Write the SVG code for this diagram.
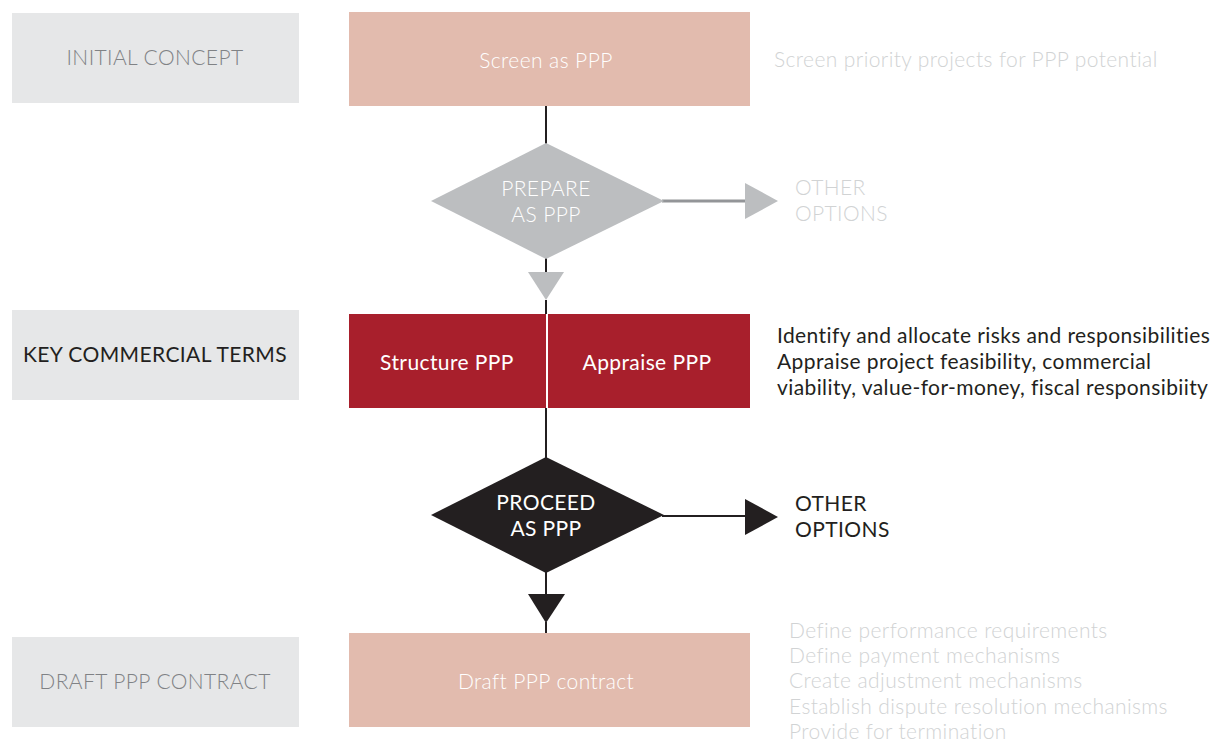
<svg xmlns="http://www.w3.org/2000/svg" width="1227" height="743" viewBox="0 0 1227 743">
<style>
text{font-family:Lato,"Noto Sans","Liberation Sans",sans-serif;font-size:21px;letter-spacing:0.4px;font-weight:300}
.stage{fill:#e6e7e8}
.stxt{fill:#808285;text-anchor:middle}
.pink{fill:#e2bbae}
.wt{fill:#ffffff;text-anchor:middle}
.note{fill:#d1d3d4}
.blk{fill:#231f20;font-weight:400}
</style>
<rect width="1227" height="743" fill="#ffffff"/>
<g id="connectors">
<line x1="546" y1="106" x2="546" y2="145" stroke="#231f20" stroke-width="2"/>
<line x1="546" y1="258" x2="546" y2="274" stroke="#231f20" stroke-width="2"/>
<polygon points="528,272 564,272 546,300" fill="#bcbec0"/>
<line x1="546" y1="300" x2="546" y2="314" stroke="#231f20" stroke-width="2"/>
<line x1="662" y1="201" x2="746" y2="201" stroke="#939598" stroke-width="3"/>
<polygon points="745,183 778,201 745,219" fill="#bcbec0"/>
<line x1="546" y1="408" x2="546" y2="459" stroke="#231f20" stroke-width="2"/>
<line x1="546" y1="571" x2="546" y2="596" stroke="#231f20" stroke-width="2"/>
<polygon points="528,594 565,594 546,623" fill="#231f20"/>
<line x1="546" y1="622" x2="546" y2="633" stroke="#231f20" stroke-width="2"/>
<line x1="662" y1="516" x2="746" y2="516" stroke="#231f20" stroke-width="2"/>
<polygon points="745,499 778,517 745,535" fill="#231f20"/>
</g>
<g id="initial-concept">
<rect class="stage" x="12" y="13" width="287" height="90"/>
<text class="stxt" x="155" y="65">INITIAL CONCEPT</text>
</g>
<g id="screen-as-ppp">
<rect class="pink" x="349" y="12" width="401" height="94"/>
<text class="wt" x="546" y="68">Screen as PPP</text>
</g>
<g id="screen-note">
<text class="note" x="774" y="67">Screen priority projects for PPP potential</text>
</g>
<g id="prepare-as-ppp">
<polygon points="546,143 664,201 546,259 431,201" fill="#bcbec0"/>
<text class="wt" x="546" y="196">PREPARE</text>
<text class="wt" x="546" y="222">AS PPP</text>
</g>
<g id="other-options-1">
<text class="note" x="795" y="195">OTHER</text>
<text class="note" x="795" y="221">OPTIONS</text>
</g>
<g id="key-commercial-terms">
<rect class="stage" x="12" y="310" width="287" height="90"/>
<text class="blk" x="155" y="362" text-anchor="middle">KEY COMMERCIAL TERMS</text>
</g>
<g id="structure-appraise">
<rect x="349" y="314" width="401" height="94" fill="#a81f2c"/>
<line x1="547" y1="314" x2="547" y2="408" stroke="#ffffff" stroke-width="2"/>
<text class="wt" x="447" y="370" style="font-weight:400">Structure PPP</text>
<text class="wt" x="647" y="370" style="font-weight:400">Appraise PPP</text>
</g>
<g id="kct-notes">
<text class="blk" x="777" y="343">Identify and allocate risks and responsibilities</text>
<text class="blk" x="777" y="369">Appraise project feasibility, commercial</text>
<text class="blk" x="777" y="395">viability, value-for-money, fiscal responsibiity</text>
</g>
<g id="proceed-as-ppp">
<polygon points="546,457 664,515 546,573 431,515" fill="#231f20"/>
<text class="wt" x="546" y="510" style="font-weight:400">PROCEED</text>
<text class="wt" x="546" y="536" style="font-weight:400">AS PPP</text>
</g>
<g id="other-options-2">
<text class="blk" x="795" y="511">OTHER</text>
<text class="blk" x="795" y="537">OPTIONS</text>
</g>
<g id="draft-ppp-contract-stage">
<rect class="stage" x="12" y="637" width="287" height="90"/>
<text class="stxt" x="155" y="689">DRAFT PPP CONTRACT</text>
</g>
<g id="draft-ppp-contract">
<rect class="pink" x="349" y="633" width="401" height="94"/>
<text class="wt" x="546" y="689">Draft PPP contract</text>
</g>
<g id="draft-notes">
<text class="note" x="789" y="638">Define performance requirements</text>
<text class="note" x="789" y="663">Define payment mechanisms</text>
<text class="note" x="789" y="688">Create adjustment mechanisms</text>
<text class="note" x="789" y="714">Establish dispute resolution mechanisms</text>
<text class="note" x="789" y="739">Provide for termination</text>
</g>
</svg>
